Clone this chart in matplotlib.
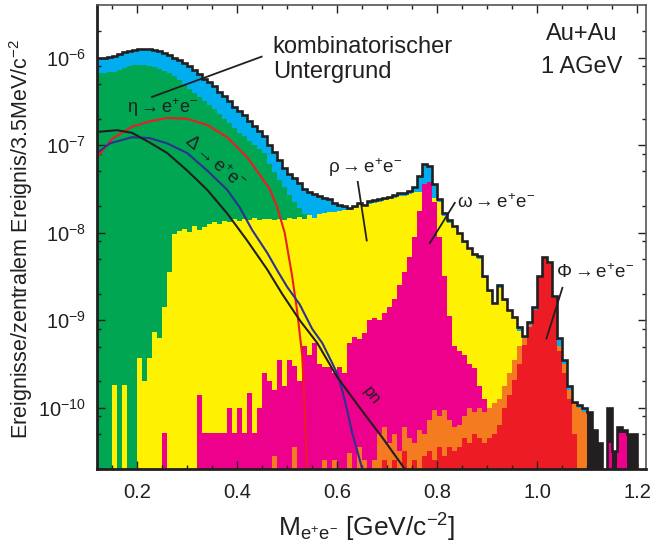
import numpy as np
import matplotlib
matplotlib.use("Agg")
import matplotlib.pyplot as plt
from matplotlib.ticker import FixedLocator, NullFormatter

plt.rcParams['font.family'] = ['Liberation Sans', 'DejaVu Sans']
plt.rcParams['mathtext.fontset'] = 'custom'
plt.rcParams['mathtext.rm'] = 'Liberation Sans'
plt.rcParams['mathtext.it'] = 'Liberation Sans:italic'
plt.rcParams['mathtext.bf'] = 'Liberation Sans:bold'
plt.rcParams['mathtext.default'] = 'regular'
plt.rcParams['axes.unicode_minus'] = False

# histograms, 10 MeV bins, values given as log10(counts)
bin_w = 0.01

total_lo = 0.12
total_log = [
    -6.00, -6.00, -5.99, -5.98, -5.96, -5.94, -5.93, -5.91, -5.90, -5.90,
    -5.90, -5.91, -5.93, -5.95, -5.97, -6.00, -6.03, -6.06, -6.10, -6.14,
    -6.19, -6.24, -6.28, -6.33, -6.39, -6.44, -6.50, -6.56, -6.61, -6.66,
    -6.72, -6.78, -6.84, -6.90, -7.00, -7.08, -7.17, -7.26, -7.33, -7.38,
    -7.43, -7.50, -7.54, -7.56, -7.58, -7.60, -7.62, -7.66, -7.68, -7.70,
    -7.72, -7.70, -7.66, -7.68, -7.64, -7.63, -7.62, -7.60, -7.59, -7.57,
    -7.55, -7.55, -7.52, -7.48, -7.35, -7.22, -7.24, -7.45, -7.62, -7.78,
    -7.86, -7.92, -8.00, -8.10, -8.17, -8.24, -8.27, -8.50, -8.66, -8.80,
    -8.60, -8.76, -8.88, -8.96, -9.08, -9.18, -9.02, -8.85, -8.50, -8.28,
    -8.34, -8.72, -9.20, -9.45, -9.75, -9.93, -9.97, -10.0, -10.05, -10.25,
    -10.4, -11.0, -10.0, -10.5, -10.22, -10.25, -10.3, -10.3, -11.0, -11.0,
]
blue_nbins = 98  # blue part follows the total up to 1.10 GeV

green_lo = 0.12
green_log = [
    -6.18, -6.18, -6.17, -6.16, -6.14, -6.12, -6.10, -6.09, -6.09, -6.09,
    -6.10, -6.11, -6.13, -6.15, -6.18, -6.21, -6.26, -6.31, -6.36, -6.40,
    -6.45, -6.50, -6.54, -6.59, -6.65, -6.70, -6.75, -6.80, -6.86, -6.90,
    -6.95, -7.00, -7.04, -7.09, -7.22, -7.31, -7.40, -7.48, -7.57, -7.65,
    -7.72, -7.79, -7.86, -7.92, -8.00, -8.10, -8.20, -8.30,
]

rho_lo = 0.12
rho_log = [
    -11.0, -11.0, -11.0, -9.74, -11.0, -9.74, -11.0, -11.0, -9.43, -9.70,
    -9.43, -9.14, -9.20, -8.85, -8.45, -8.02, -7.98, -7.96, -7.99, -7.93,
    -7.97, -7.94, -7.90, -7.88, -7.90, -7.87, -7.88, -7.85, -7.87, -7.84,
    -7.86, -7.83, -7.86, -7.84, -7.85, -7.86, -7.84, -7.86, -7.83, -7.85,
    -7.82, -7.84, -7.80, -7.83, -7.79, -7.78, -7.76, -7.76, -7.75, -7.74,
    -7.74, -7.72, -7.69, -7.70, -7.67, -7.66, -7.65, -7.63, -7.62, -7.60,
    -7.58, -7.58, -7.56, -7.54, -7.54, -7.56, -7.58, -7.60, -7.65, -7.81,
    -7.89, -7.94, -8.02, -8.12, -8.19, -8.26, -8.30, -8.52, -8.68, -8.82,
    -8.63, -8.78, -8.90, -8.98, -9.12, -9.30, -9.50, -9.70, -9.90, -10.2,
    -10.5,
]

omega_lo = 0.25
omega_log = [
    -10.29, -11.0, -11.0, -11.0, -11.0, -11.0, -11.0, -9.85, -10.29, -10.29,
    -10.29, -10.29, -10.29, -10.0, -10.29, -10.0, -10.29, -9.83, -10.29, -10.0,
    -9.60, -9.69, -9.80, -9.46, -9.75, -9.46, -9.52, -9.69, -9.30, -9.40,
    -9.26, -9.50, -9.54, -9.54, -9.60, -9.54, -9.60, -9.26, -9.19, -9.22,
    -9.15, -9.00, -8.97, -9.00, -8.92, -8.85, -8.76, -8.60, -8.45, -8.28,
    -8.05, -7.75, -7.45, -7.42, -7.65, -8.05, -8.50, -8.95, -9.30, -9.35,
    -9.40, -9.50, -9.55, -9.75, -9.90, -10.1, -10.4, -11.0, -11.0, -11.0,
    -11.0, -11.0, -11.0, -11.0, -11.0, -11.0, -11.0, -11.0, -11.0, -11.0,
    -11.0, -11.0, -11.0, -11.0, -11.0, -11.0, -11.0, -11.0, -11.0, -10.4,
    -11.0, -10.29, -10.29,
]

orange_lo = 0.47
orange_log = [
    -10.55, -11.0, -11.0, -11.0, -10.45, -11.0, -11.0, -11.0, -11.0, -11.0,
    -10.6, -11.0, -10.6, -11.0, -11.0, -10.52, -11.0, -10.45, -10.6, -11.0,
    -10.6, -10.3, -10.22, -10.4, -10.3, -10.5, -10.22, -10.35, -10.4, -10.25,
    -10.3, -10.14, -10.03, -10.1, -10.03, -10.14, -10.22, -10.2, -10.1, -10.0,
    -10.05, -10.0, -10.05, -10.0, -9.95, -9.90, -9.75, -9.60, -9.45, -9.30,
    -9.20, -9.05, -8.95, -8.75, -8.60, -8.60, -8.90, -9.30, -9.50, -9.80,
    -9.95, -10.0, -10.05,
]

phi_lo = 0.69
phi_log = [
    -10.6, -11.0, -10.6, -11.0, -10.5, -11.0, -10.6, -11.0, -10.55, -10.5,
    -10.6, -10.45, -10.55, -10.45, -10.5, -10.45, -10.35, -10.4, -10.3, -10.35,
    -10.4, -10.35, -10.3, -10.2, -10.0, -9.85, -9.68, -9.50, -9.28, -9.08,
    -8.88, -8.50, -8.30, -8.36, -8.75, -9.35, -9.60, -9.90, -10.3,
]

# smooth model curves (mass, log10)
eta_m = [0.12, 0.15, 0.19, 0.225, 0.26, 0.30, 0.34, 0.38, 0.42, 0.45, 0.465,
         0.48, 0.495, 0.51, 0.52, 0.53, 0.535, 0.54]
eta_log = [-7.14, -6.93, -6.79, -6.73, -6.69, -6.70, -6.77, -6.91, -7.14, -7.38,
           -7.50, -7.71, -8.0, -8.5, -8.9, -9.4, -10.0, -10.8]

delta_m = [0.12, 0.146, 0.19, 0.225, 0.26, 0.30, 0.34, 0.38, 0.405, 0.43, 0.46,
           0.48, 0.50, 0.525, 0.55, 0.57, 0.59, 0.60, 0.61, 0.62, 0.63, 0.64, 0.65]
delta_log = [-7.09, -6.98, -6.91, -6.92, -6.98, -7.09, -7.29, -7.51, -7.71, -7.97,
             -8.23, -8.43, -8.62, -8.82, -9.10, -9.26, -9.49, -9.61, -9.80, -10.03,
             -10.29, -10.49, -10.7]

pn_m = [0.12, 0.16, 0.19, 0.225, 0.26, 0.30, 0.34, 0.38, 0.42, 0.46, 0.49,
        0.525, 0.56, 0.60, 0.645, 0.69, 0.735]
pn_log = [-6.85, -6.83, -6.86, -6.97, -7.09, -7.29, -7.51, -7.78, -8.09, -8.42,
          -8.70, -9.0, -9.26, -9.65, -10.0, -10.34, -10.70]

x_ticks = [0.2, 0.4, 0.6, 0.8, 1.0, 1.2]
y_decades = [-10, -9, -8, -7, -6]

c_black = '#231F20'
c_blue = '#00AEEF'
c_green = '#00A651'
c_yellow = '#FFF200'
c_magenta = '#EC008C'
c_orange = '#F47B20'
c_red = '#ED1C24'
c_navy = '#2E3192'


def edges(start, n):
    return start + bin_w * np.arange(n + 1)


def fill_hist(ax, logvals, start, color):
    v = 10.0 ** np.asarray(logvals)
    ax.stairs(v, edges(start, len(v)), fill=True, baseline=1e-12,
              color=color, lw=0)


fig = plt.figure(figsize=(6.54, 5.48), dpi=100)
ax = fig.add_axes([97 / 654, 79 / 548, 549 / 654, 464 / 548])
ax.set_yscale('log')

fill_hist(ax, total_log, total_lo, c_black)
fill_hist(ax, total_log[:blue_nbins], total_lo, c_blue)
fill_hist(ax, green_log, green_lo, c_green)
fill_hist(ax, rho_log, rho_lo, c_yellow)
fill_hist(ax, omega_log, omega_lo, c_magenta)
fill_hist(ax, orange_log, orange_lo, c_orange)
fill_hist(ax, phi_log, phi_lo, c_red)
tot = 10.0 ** np.asarray(total_log)
ax.stairs(tot, edges(total_lo, len(tot)), baseline=None, color=c_black, lw=1.9)

ax.plot(eta_m, 10.0 ** np.asarray(eta_log), color=c_red, lw=1.5)
ax.plot(delta_m, 10.0 ** np.asarray(delta_log), color=c_navy, lw=1.5)
ax.plot(pn_m, 10.0 ** np.asarray(pn_log), color=c_black, lw=1.5)

ax.set_xlim(0.12, 1.217)
ax.set_ylim(10 ** -10.70, 10 ** -5.40)

ax.xaxis.set_major_locator(FixedLocator(x_ticks))
ax.xaxis.set_minor_locator(FixedLocator(np.arange(0.15, 1.2, 0.05)))
ax.set_xticklabels([f'{v:.1f}' for v in x_ticks])
ax.yaxis.set_major_locator(FixedLocator([10.0 ** d for d in y_decades]))
ax.yaxis.set_minor_locator(FixedLocator(
    [s * 10.0 ** d for d in [-11] + y_decades for s in (2, 5, 8)]))
ax.yaxis.set_minor_formatter(NullFormatter())
ax.set_yticklabels([rf'$10^{{{d}}}$' for d in y_decades])
ax.tick_params(which='both', direction='in', top=True, right=True,
               colors=c_black, labelsize=14.5)
ax.tick_params(which='major', length=6, width=1.0)
ax.tick_params(which='minor', length=3, width=1.0)
ax.tick_params(axis='x', pad=10)
ax.tick_params(axis='y', pad=8)

for side in ['left', 'bottom']:
    ax.spines[side].set_linewidth(2.0)
    ax.spines[side].set_color(c_black)
for side in ['top', 'right']:
    ax.spines[side].set_linewidth(1.2)
    ax.spines[side].set_color('#555555')

ax.set_xlabel(r'M$_{e^{+}e^{-}}$ [GeV/c$^{-2}$]', fontsize=19, color=c_black)
ax.xaxis.set_label_coords(367 / 654, 1 - 512 / 548, transform=fig.transFigure)
ax.set_ylabel(r'Ereignisse/zentralem Ereignis/3.5MeV/c$^{-2}$', fontsize=15.5,
              color=c_black)
ax.yaxis.set_label_coords(35 / 654, 1 - 239 / 548, transform=fig.transFigure)

# annotations
ax.text(0.471, 10 ** -5.95, 'kombinatorischer', fontsize=17, color=c_black)
ax.text(0.471, 10 ** -6.23, 'Untergrund', fontsize=17, color=c_black)
ax.plot([0.449, 0.230], [10 ** -5.99, 10 ** -6.45], color=c_black, lw=1.3)

ax.text(1.088, 10 ** -5.80, 'Au+Au', fontsize=17, ha='center', color=c_black)
ax.text(1.088, 10 ** -6.18, '1 AGeV', fontsize=17, ha='center', color=c_black)

ax.text(0.180, 10 ** -6.63, r'$\eta \rightarrow e^{+}e^{-}$', fontsize=13,
        color=c_black)
ax.text(0.355, 10 ** -7.20, r'$\Delta \rightarrow e^{+}e^{-}$', fontsize=13,
        color=c_black, rotation=-41, ha='center', va='center',
        rotation_mode='anchor')

ax.text(0.581, 10 ** -7.32, r'$\rho \rightarrow e^{+}e^{-}$', fontsize=13.5,
        color=c_black)
ax.plot([0.641, 0.659], [10 ** -7.42, 10 ** -8.09], color=c_black, lw=1.3)

ax.text(0.839, 10 ** -7.72, r'$\omega \rightarrow e^{+}e^{-}$', fontsize=13.5,
        color=c_black)
ax.plot([0.835, 0.785], [10 ** -7.66, 10 ** -8.12], color=c_black, lw=1.3)

ax.text(1.038, 10 ** -8.52, r'$\Phi \rightarrow e^{+}e^{-}$', fontsize=13.5,
        color=c_black)
ax.plot([1.050, 1.018], [10 ** -8.63, 10 ** -9.21], color=c_black, lw=1.3)

ax.text(0.669, 10 ** -9.86, 'pn', fontsize=12, color=c_black, rotation=-52,
        ha='center', va='center', rotation_mode='anchor')

fig.savefig('out.png', dpi=100)
